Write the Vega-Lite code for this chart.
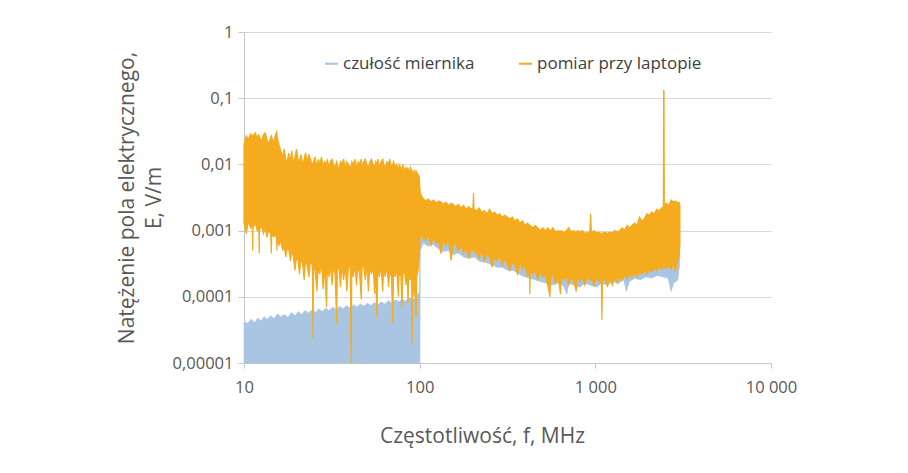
{
  "$schema": "https://vega.github.io/schema/vega-lite/v6.json",
  "width": 527,
  "height": 331,
  "autosize": {"type": "none"},
  "padding": {"left": 244, "top": 32, "right": 137, "bottom": 110},
  "background": "white",
  "config": {
    "view": {"stroke": null},
    "font": "Open Sans",
    "axis": {
      "labelFont": "Open Sans",
      "titleFont": "Open Sans",
      "labelColor": "#595959",
      "titleColor": "#595959",
      "labelFontSize": 16.5,
      "titleFontSize": 21,
      "titleFontWeight": "normal",
      "domainColor": "#c8c8c8",
      "tickColor": "#c8c8c8",
      "gridColor": "#d9d9d9"
    },
    "legend": {"labelFont": "Open Sans", "labelFontSize": 17, "labelColor": "#404040", "labelLimit": 400}
  },
  "datasets": {
    "blue": [
      {"f": 10, "lo": 0.00001, "hi": 0.000042},
      {"f": 10.5, "lo": 0.00001, "hi": 0.00004},
      {"f": 11, "lo": 0.00001, "hi": 0.000046},
      {"f": 11.5, "lo": 0.00001, "hi": 0.000041},
      {"f": 12, "lo": 0.00001, "hi": 0.000048},
      {"f": 12.5, "lo": 0.00001, "hi": 0.000043},
      {"f": 13, "lo": 0.00001, "hi": 0.00005},
      {"f": 13.6, "lo": 0.00001, "hi": 0.000046},
      {"f": 14.2, "lo": 0.00001, "hi": 0.000052},
      {"f": 14.8, "lo": 0.00001, "hi": 0.000047},
      {"f": 15.5, "lo": 0.00001, "hi": 0.000055},
      {"f": 16.2, "lo": 0.00001, "hi": 0.00005},
      {"f": 17, "lo": 0.00001, "hi": 0.000054},
      {"f": 17.8, "lo": 0.00001, "hi": 0.000049},
      {"f": 18.6, "lo": 0.00001, "hi": 0.000058},
      {"f": 19.5, "lo": 0.00001, "hi": 0.000052},
      {"f": 20.4, "lo": 0.00001, "hi": 0.00006},
      {"f": 21.3, "lo": 0.00001, "hi": 0.000054},
      {"f": 22.3, "lo": 0.00001, "hi": 0.000062},
      {"f": 23.3, "lo": 0.00001, "hi": 0.000057},
      {"f": 24.4, "lo": 0.00001, "hi": 0.000064},
      {"f": 25.5, "lo": 0.00001, "hi": 0.000058},
      {"f": 26.7, "lo": 0.00001, "hi": 0.000066},
      {"f": 27.9, "lo": 0.00001, "hi": 0.00006},
      {"f": 29.2, "lo": 0.00001, "hi": 0.000068},
      {"f": 30.5, "lo": 0.00001, "hi": 0.000062},
      {"f": 32, "lo": 0.00001, "hi": 0.00007},
      {"f": 33.5, "lo": 0.00001, "hi": 0.000064},
      {"f": 35, "lo": 0.00001, "hi": 0.000072},
      {"f": 36.6, "lo": 0.00001, "hi": 0.000066},
      {"f": 38.3, "lo": 0.00001, "hi": 0.000074},
      {"f": 40.1, "lo": 0.00001, "hi": 0.000068},
      {"f": 42, "lo": 0.00001, "hi": 0.000076},
      {"f": 44, "lo": 0.00001, "hi": 0.00007},
      {"f": 46, "lo": 0.00001, "hi": 0.000078},
      {"f": 48.2, "lo": 0.00001, "hi": 0.000072},
      {"f": 50.4, "lo": 0.00001, "hi": 0.00008},
      {"f": 52.8, "lo": 0.00001, "hi": 0.000074},
      {"f": 55.2, "lo": 0.00001, "hi": 0.000082},
      {"f": 57.8, "lo": 0.00001, "hi": 0.000076},
      {"f": 60.5, "lo": 0.00001, "hi": 0.000084},
      {"f": 63.3, "lo": 0.00001, "hi": 0.000078},
      {"f": 66.3, "lo": 0.00001, "hi": 0.000088},
      {"f": 69.4, "lo": 0.00001, "hi": 0.00008},
      {"f": 72.6, "lo": 0.00001, "hi": 0.00009},
      {"f": 76, "lo": 0.00001, "hi": 0.000084},
      {"f": 79.5, "lo": 0.00001, "hi": 0.000092},
      {"f": 83.2, "lo": 0.00001, "hi": 0.000086},
      {"f": 87.1, "lo": 0.00001, "hi": 0.000096},
      {"f": 91.2, "lo": 0.00001, "hi": 0.00009},
      {"f": 95.4, "lo": 0.00001, "hi": 0.0001},
      {"f": 98, "lo": 0.00001, "hi": 0.00011},
      {"f": 99.8, "lo": 0.00001, "hi": 0.00012},
      {"f": 100.3, "lo": 0.00001, "hi": 0.001},
      {"f": 100.8, "lo": 0.0005, "hi": 0.001},
      {"f": 105, "lo": 0.00065, "hi": 0.0012},
      {"f": 112, "lo": 0.00058, "hi": 0.0012},
      {"f": 118, "lo": 0.00062, "hi": 0.0011},
      {"f": 126, "lo": 0.00055, "hi": 0.0012},
      {"f": 135, "lo": 0.00048, "hi": 0.0011},
      {"f": 145, "lo": 0.0005, "hi": 0.001},
      {"f": 155, "lo": 0.00043, "hi": 0.001},
      {"f": 166, "lo": 0.00046, "hi": 0.001},
      {"f": 178, "lo": 0.0004, "hi": 0.0009},
      {"f": 190, "lo": 0.00038, "hi": 0.0009},
      {"f": 205, "lo": 0.0004, "hi": 0.0009},
      {"f": 220, "lo": 0.00034, "hi": 0.0008},
      {"f": 237, "lo": 0.00033, "hi": 0.0008},
      {"f": 255, "lo": 0.00031, "hi": 0.0008},
      {"f": 275, "lo": 0.00028, "hi": 0.0007},
      {"f": 295, "lo": 0.00028, "hi": 0.0007},
      {"f": 318, "lo": 0.00025, "hi": 0.0007},
      {"f": 342, "lo": 0.00025, "hi": 0.0006},
      {"f": 368, "lo": 0.00022, "hi": 0.0006},
      {"f": 395, "lo": 0.0002, "hi": 0.0006},
      {"f": 425, "lo": 0.00019, "hi": 0.0005},
      {"f": 457, "lo": 0.00018, "hi": 0.0005},
      {"f": 490, "lo": 0.00017, "hi": 0.0005},
      {"f": 527, "lo": 0.00016, "hi": 0.0005},
      {"f": 566, "lo": 0.00015, "hi": 0.0005},
      {"f": 609, "lo": 0.00016, "hi": 0.0005},
      {"f": 655, "lo": 0.00015, "hi": 0.0005},
      {"f": 690, "lo": 0.00011, "hi": 0.0005},
      {"f": 704, "lo": 0.00016, "hi": 0.0005},
      {"f": 757, "lo": 0.00015, "hi": 0.0005},
      {"f": 814, "lo": 0.00014, "hi": 0.0005},
      {"f": 875, "lo": 0.00016, "hi": 0.0005},
      {"f": 941, "lo": 0.00015, "hi": 0.0005},
      {"f": 1012, "lo": 0.00014, "hi": 0.0005},
      {"f": 1088, "lo": 0.00016, "hi": 0.0005},
      {"f": 1170, "lo": 0.00015, "hi": 0.0005},
      {"f": 1258, "lo": 0.00017, "hi": 0.0005},
      {"f": 1352, "lo": 0.00016, "hi": 0.0005},
      {"f": 1454, "lo": 0.00018, "hi": 0.0006},
      {"f": 1500, "lo": 0.00012, "hi": 0.0006},
      {"f": 1563, "lo": 0.00017, "hi": 0.0006},
      {"f": 1680, "lo": 0.00019, "hi": 0.0006},
      {"f": 1806, "lo": 0.00018, "hi": 0.0007},
      {"f": 1942, "lo": 0.0002, "hi": 0.0007},
      {"f": 2088, "lo": 0.00019, "hi": 0.0008},
      {"f": 2244, "lo": 0.00021, "hi": 0.0008},
      {"f": 2413, "lo": 0.0002, "hi": 0.0009},
      {"f": 2594, "lo": 0.00019, "hi": 0.0009},
      {"f": 2700, "lo": 0.00012, "hi": 0.0009},
      {"f": 2789, "lo": 0.00016, "hi": 0.001},
      {"f": 2950, "lo": 0.00018, "hi": 0.001},
      {"f": 3020, "lo": 0.0003, "hi": 0.001}
    ],
    "orange": [
      {"f": 10.0, "lo": 0.0013, "hi": 0.02},
      {"f": 10.3, "lo": 0.0009, "hi": 0.027},
      {"f": 10.6, "lo": 0.0014, "hi": 0.024},
      {"f": 10.9, "lo": 0.0011, "hi": 0.029},
      {"f": 11.15, "lo": 0.0012, "hi": 0.026},
      {"f": 11.2, "lo": 0.0005, "hi": 0.028},
      {"f": 11.25, "lo": 0.0011, "hi": 0.027},
      {"f": 11.6, "lo": 0.0013, "hi": 0.03},
      {"f": 11.9, "lo": 0.001, "hi": 0.025},
      {"f": 12.15, "lo": 0.0011, "hi": 0.028},
      {"f": 12.2, "lo": 0.00045, "hi": 0.027},
      {"f": 12.25, "lo": 0.001, "hi": 0.026},
      {"f": 12.6, "lo": 0.0012, "hi": 0.022},
      {"f": 12.9, "lo": 0.0009, "hi": 0.028},
      {"f": 13.2, "lo": 0.0011, "hi": 0.03},
      {"f": 13.5, "lo": 0.0008, "hi": 0.024},
      {"f": 13.8, "lo": 0.001, "hi": 0.02},
      {"f": 14.2, "lo": 0.0009, "hi": 0.026},
      {"f": 14.3, "lo": 0.00045, "hi": 0.027},
      {"f": 14.4, "lo": 0.0009, "hi": 0.025},
      {"f": 14.8, "lo": 0.0008, "hi": 0.021},
      {"f": 15.1, "lo": 0.0009, "hi": 0.028},
      {"f": 15.35, "lo": 0.0007, "hi": 0.031},
      {"f": 15.4, "lo": 0.0005, "hi": 0.03},
      {"f": 15.45, "lo": 0.0007, "hi": 0.026},
      {"f": 15.8, "lo": 0.0006, "hi": 0.02},
      {"f": 16.2, "lo": 0.0007, "hi": 0.016},
      {"f": 16.6, "lo": 0.0005, "hi": 0.013},
      {"f": 16.9, "lo": 0.0006, "hi": 0.017},
      {"f": 17.3, "lo": 0.0004, "hi": 0.012},
      {"f": 17.6, "lo": 0.00055, "hi": 0.011},
      {"f": 18.0, "lo": 0.0005, "hi": 0.015},
      {"f": 18.4, "lo": 0.00035, "hi": 0.011},
      {"f": 18.7, "lo": 0.0005, "hi": 0.016},
      {"f": 19.1, "lo": 0.0004, "hi": 0.01},
      {"f": 19.5, "lo": 0.00025, "hi": 0.013},
      {"f": 19.9, "lo": 0.0004, "hi": 0.017},
      {"f": 20.3, "lo": 0.00035, "hi": 0.012},
      {"f": 20.7, "lo": 0.00022, "hi": 0.011},
      {"f": 21.1, "lo": 0.0004, "hi": 0.014},
      {"f": 21.6, "lo": 0.0003, "hi": 0.01},
      {"f": 22.0, "lo": 0.00018, "hi": 0.012},
      {"f": 22.4, "lo": 0.00035, "hi": 0.015},
      {"f": 22.9, "lo": 0.0003, "hi": 0.011},
      {"f": 23.4, "lo": 0.0002, "hi": 0.014},
      {"f": 23.9, "lo": 0.00035, "hi": 0.012},
      {"f": 24.5, "lo": 0.0003, "hi": 0.01},
      {"f": 24.7, "lo": 0.000024, "hi": 0.01},
      {"f": 24.9, "lo": 0.0003, "hi": 0.011},
      {"f": 25.4, "lo": 0.00025, "hi": 0.013},
      {"f": 26.0, "lo": 0.00012, "hi": 0.009},
      {"f": 26.5, "lo": 0.0003, "hi": 0.012},
      {"f": 27.0, "lo": 0.00022, "hi": 0.01},
      {"f": 27.6, "lo": 0.00035, "hi": 0.013},
      {"f": 28.2, "lo": 0.00013, "hi": 0.009},
      {"f": 28.7, "lo": 0.0003, "hi": 0.011},
      {"f": 29.5, "lo": 0.00007, "hi": 0.01},
      {"f": 29.8, "lo": 0.00028, "hi": 0.012},
      {"f": 30.4, "lo": 0.0002, "hi": 0.009},
      {"f": 31.0, "lo": 0.0003, "hi": 0.011},
      {"f": 31.7, "lo": 0.00015, "hi": 0.012},
      {"f": 32.3, "lo": 0.0003, "hi": 0.01},
      {"f": 33.0, "lo": 0.00022, "hi": 0.009},
      {"f": 33.7, "lo": 0.00004, "hi": 0.011},
      {"f": 34.0, "lo": 0.00025, "hi": 0.01},
      {"f": 34.7, "lo": 0.0003, "hi": 0.008},
      {"f": 35.4, "lo": 0.00014, "hi": 0.011},
      {"f": 36.1, "lo": 0.0003, "hi": 0.01},
      {"f": 36.9, "lo": 0.00018, "hi": 0.012},
      {"f": 37.7, "lo": 0.0003, "hi": 0.009},
      {"f": 38.5, "lo": 0.00012, "hi": 0.011},
      {"f": 39.3, "lo": 0.00028, "hi": 0.01},
      {"f": 40.3, "lo": 0.0003, "hi": 0.009},
      {"f": 40.7, "lo": 0.00001, "hi": 0.009},
      {"f": 41.1, "lo": 0.0003, "hi": 0.011},
      {"f": 41.9, "lo": 0.0002, "hi": 0.01},
      {"f": 42.8, "lo": 0.0003, "hi": 0.012},
      {"f": 43.7, "lo": 0.00015, "hi": 0.009},
      {"f": 44.6, "lo": 0.0003, "hi": 0.011},
      {"f": 45.5, "lo": 0.00022, "hi": 0.01},
      {"f": 46.5, "lo": 0.00009, "hi": 0.012},
      {"f": 47.0, "lo": 0.00028, "hi": 0.009},
      {"f": 48.0, "lo": 0.0003, "hi": 0.011},
      {"f": 49.0, "lo": 0.00018, "hi": 0.012},
      {"f": 50.0, "lo": 0.0003, "hi": 0.01},
      {"f": 51.1, "lo": 0.00012, "hi": 0.009},
      {"f": 52.0, "lo": 0.00028, "hi": 0.011},
      {"f": 53.2, "lo": 0.00022, "hi": 0.012},
      {"f": 54.3, "lo": 0.0003, "hi": 0.01},
      {"f": 55.5, "lo": 0.00011, "hi": 0.009},
      {"f": 56.2, "lo": 0.00028, "hi": 0.011},
      {"f": 57.1, "lo": 0.00005, "hi": 0.01},
      {"f": 57.8, "lo": 0.00028, "hi": 0.012},
      {"f": 59.0, "lo": 0.0002, "hi": 0.009},
      {"f": 60.3, "lo": 0.0003, "hi": 0.011},
      {"f": 61.6, "lo": 0.00012, "hi": 0.012},
      {"f": 62.4, "lo": 0.00028, "hi": 0.01},
      {"f": 63.7, "lo": 0.0002, "hi": 0.009},
      {"f": 65.1, "lo": 0.0003, "hi": 0.011},
      {"f": 66.5, "lo": 0.00014, "hi": 0.01},
      {"f": 67.5, "lo": 0.00025, "hi": 0.012},
      {"f": 69.0, "lo": 0.0002, "hi": 0.009},
      {"f": 70.3, "lo": 0.00004, "hi": 0.01},
      {"f": 71.0, "lo": 0.00025, "hi": 0.011},
      {"f": 72.5, "lo": 0.0002, "hi": 0.009},
      {"f": 74.0, "lo": 0.00028, "hi": 0.01},
      {"f": 75.6, "lo": 0.0001, "hi": 0.008},
      {"f": 76.5, "lo": 0.00025, "hi": 0.01},
      {"f": 78.2, "lo": 0.0002, "hi": 0.009},
      {"f": 79.3, "lo": 0.00007, "hi": 0.008},
      {"f": 80.2, "lo": 0.00022, "hi": 0.01},
      {"f": 81.9, "lo": 0.00025, "hi": 0.008},
      {"f": 83.6, "lo": 0.00015, "hi": 0.009},
      {"f": 85.0, "lo": 0.00025, "hi": 0.008},
      {"f": 85.8, "lo": 0.00008, "hi": 0.009},
      {"f": 86.8, "lo": 0.00022, "hi": 0.007},
      {"f": 88.6, "lo": 0.00018, "hi": 0.009},
      {"f": 90.0, "lo": 0.00025, "hi": 0.008},
      {"f": 90.5, "lo": 0.00002, "hi": 0.008},
      {"f": 91.2, "lo": 0.00022, "hi": 0.007},
      {"f": 93.0, "lo": 0.0001, "hi": 0.008},
      {"f": 94.5, "lo": 0.00022, "hi": 0.007},
      {"f": 95.4, "lo": 0.00005, "hi": 0.008},
      {"f": 96.3, "lo": 0.0002, "hi": 0.0075},
      {"f": 98.0, "lo": 0.00025, "hi": 0.007},
      {"f": 99.5, "lo": 0.0004, "hi": 0.0065},
      {"f": 100.5, "lo": 0.0008, "hi": 0.004},
      {"f": 101.5, "lo": 0.0009, "hi": 0.0035},
      {"f": 104, "lo": 0.0008, "hi": 0.0031},
      {"f": 108, "lo": 0.0007, "hi": 0.0028},
      {"f": 112, "lo": 0.00085, "hi": 0.003},
      {"f": 116, "lo": 0.0006, "hi": 0.0027},
      {"f": 120, "lo": 0.0008, "hi": 0.0029},
      {"f": 124, "lo": 0.00065, "hi": 0.0026},
      {"f": 128, "lo": 0.0007, "hi": 0.0028},
      {"f": 132, "lo": 0.00045, "hi": 0.0027},
      {"f": 136, "lo": 0.0007, "hi": 0.0025},
      {"f": 141, "lo": 0.0006, "hi": 0.0027},
      {"f": 146, "lo": 0.00075, "hi": 0.0024},
      {"f": 151, "lo": 0.00035, "hi": 0.0026},
      {"f": 155, "lo": 0.0006, "hi": 0.0025},
      {"f": 160, "lo": 0.00065, "hi": 0.0023},
      {"f": 166, "lo": 0.0005, "hi": 0.0025},
      {"f": 172, "lo": 0.0006, "hi": 0.0022},
      {"f": 178, "lo": 0.00045, "hi": 0.0024},
      {"f": 184, "lo": 0.00055, "hi": 0.0021},
      {"f": 190, "lo": 0.0004, "hi": 0.0023},
      {"f": 196, "lo": 0.0005, "hi": 0.0021},
      {"f": 201, "lo": 0.0005, "hi": 0.0022},
      {"f": 202.5, "lo": 0.0005, "hi": 0.0037},
      {"f": 204, "lo": 0.0005, "hi": 0.0021},
      {"f": 211, "lo": 0.00045, "hi": 0.002},
      {"f": 218, "lo": 0.00038, "hi": 0.0022},
      {"f": 226, "lo": 0.0005, "hi": 0.0019},
      {"f": 234, "lo": 0.00035, "hi": 0.002},
      {"f": 242, "lo": 0.00045, "hi": 0.0018},
      {"f": 250, "lo": 0.0004, "hi": 0.0021},
      {"f": 258, "lo": 0.00028, "hi": 0.0018},
      {"f": 267, "lo": 0.0004, "hi": 0.0019},
      {"f": 276, "lo": 0.00035, "hi": 0.0017},
      {"f": 285, "lo": 0.00042, "hi": 0.0018},
      {"f": 295, "lo": 0.0003, "hi": 0.0016},
      {"f": 305, "lo": 0.00038, "hi": 0.0017},
      {"f": 315, "lo": 0.00032, "hi": 0.0016},
      {"f": 326, "lo": 0.00025, "hi": 0.0015},
      {"f": 337, "lo": 0.00035, "hi": 0.0016},
      {"f": 348, "lo": 0.0003, "hi": 0.0014},
      {"f": 360, "lo": 0.00022, "hi": 0.0015},
      {"f": 372, "lo": 0.00032, "hi": 0.0013},
      {"f": 385, "lo": 0.00026, "hi": 0.0014},
      {"f": 398, "lo": 0.0003, "hi": 0.0012},
      {"f": 411, "lo": 0.0002, "hi": 0.0013},
      {"f": 422, "lo": 0.00026, "hi": 0.0012},
      {"f": 424, "lo": 0.00011, "hi": 0.0012},
      {"f": 426, "lo": 0.00026, "hi": 0.0012},
      {"f": 440, "lo": 0.00022, "hi": 0.0011},
      {"f": 455, "lo": 0.00026, "hi": 0.0012},
      {"f": 470, "lo": 0.00018, "hi": 0.0011},
      {"f": 486, "lo": 0.00024, "hi": 0.001},
      {"f": 502, "lo": 0.0002, "hi": 0.0011},
      {"f": 519, "lo": 0.00022, "hi": 0.001},
      {"f": 536, "lo": 0.00015, "hi": 0.0011},
      {"f": 552, "lo": 0.0001, "hi": 0.001},
      {"f": 556, "lo": 0.0002, "hi": 0.001},
      {"f": 574, "lo": 0.00022, "hi": 0.0011},
      {"f": 593, "lo": 0.00016, "hi": 0.00095},
      {"f": 613, "lo": 0.0002, "hi": 0.001},
      {"f": 634, "lo": 0.00011, "hi": 0.00095},
      {"f": 640, "lo": 0.0002, "hi": 0.001},
      {"f": 661, "lo": 0.00018, "hi": 0.00092},
      {"f": 683, "lo": 0.00021, "hi": 0.001},
      {"f": 706, "lo": 0.00015, "hi": 0.0011},
      {"f": 730, "lo": 0.0002, "hi": 0.00095},
      {"f": 754, "lo": 0.00017, "hi": 0.001},
      {"f": 779, "lo": 0.00012, "hi": 0.00092},
      {"f": 790, "lo": 0.0002, "hi": 0.001},
      {"f": 816, "lo": 0.00017, "hi": 0.00095},
      {"f": 843, "lo": 0.0002, "hi": 0.001},
      {"f": 871, "lo": 0.00015, "hi": 0.0009},
      {"f": 900, "lo": 0.0002, "hi": 0.00095},
      {"f": 930, "lo": 0.00018, "hi": 0.0009},
      {"f": 940, "lo": 0.00018, "hi": 0.0018},
      {"f": 950, "lo": 0.00019, "hi": 0.0009},
      {"f": 981, "lo": 0.00015, "hi": 0.001},
      {"f": 1013, "lo": 0.0002, "hi": 0.00092},
      {"f": 1046, "lo": 0.00017, "hi": 0.00095},
      {"f": 1082, "lo": 0.00017, "hi": 0.0009},
      {"f": 1090, "lo": 0.000045, "hi": 0.0009},
      {"f": 1098, "lo": 0.00017, "hi": 0.00092},
      {"f": 1134, "lo": 0.0002, "hi": 0.00095},
      {"f": 1171, "lo": 0.00014, "hi": 0.0009},
      {"f": 1210, "lo": 0.0002, "hi": 0.00095},
      {"f": 1250, "lo": 0.00015, "hi": 0.00092},
      {"f": 1291, "lo": 0.0002, "hi": 0.001},
      {"f": 1333, "lo": 0.00016, "hi": 0.00095},
      {"f": 1377, "lo": 0.0002, "hi": 0.001},
      {"f": 1422, "lo": 0.00018, "hi": 0.0011},
      {"f": 1469, "lo": 0.00021, "hi": 0.001},
      {"f": 1517, "lo": 0.00019, "hi": 0.0012},
      {"f": 1567, "lo": 0.00022, "hi": 0.0011},
      {"f": 1618, "lo": 0.0002, "hi": 0.0012},
      {"f": 1671, "lo": 0.00023, "hi": 0.0013},
      {"f": 1726, "lo": 0.0002, "hi": 0.0012},
      {"f": 1783, "lo": 0.00024, "hi": 0.0016},
      {"f": 1841, "lo": 0.00022, "hi": 0.0014},
      {"f": 1901, "lo": 0.00025, "hi": 0.0015},
      {"f": 1964, "lo": 0.00022, "hi": 0.0018},
      {"f": 2028, "lo": 0.00026, "hi": 0.0017},
      {"f": 2095, "lo": 0.00024, "hi": 0.0019},
      {"f": 2163, "lo": 0.00027, "hi": 0.0018},
      {"f": 2234, "lo": 0.00025, "hi": 0.0021},
      {"f": 2308, "lo": 0.00028, "hi": 0.002},
      {"f": 2383, "lo": 0.00026, "hi": 0.0022},
      {"f": 2440, "lo": 0.00028, "hi": 0.0023},
      {"f": 2448, "lo": 0.0003, "hi": 0.13},
      {"f": 2460, "lo": 0.0003, "hi": 0.13},
      {"f": 2470, "lo": 0.00028, "hi": 0.0024},
      {"f": 2540, "lo": 0.00027, "hi": 0.0026},
      {"f": 2620, "lo": 0.0003, "hi": 0.0024},
      {"f": 2700, "lo": 0.00026, "hi": 0.0029},
      {"f": 2780, "lo": 0.00032, "hi": 0.0027},
      {"f": 2860, "lo": 0.00024, "hi": 0.0028},
      {"f": 2940, "lo": 0.00035, "hi": 0.0026},
      {"f": 2990, "lo": 0.0004, "hi": 0.0027},
      {"f": 3030, "lo": 0.0006, "hi": 0.0024}
    ]
  },
  "encoding": {
    "x": {
      "field": "f",
      "type": "quantitative",
      "scale": {"type": "log", "domain": [10, 10000]},
      "axis": {
        "values": [10, 100, 1000, 10000],
        "labelExpr": "replace(format(datum.value, ','), ',', ' ')",
        "grid": false,
        "tickSize": 5,
        "labelPadding": 11,
        "labelFlush": false,
        "title": "Częstotliwość, f, MHz",
        "titlePadding": 30,
        "titleX": 238
      }
    },
    "y": {
      "field": "hi",
      "type": "quantitative",
      "scale": {"type": "log", "domain": [0.00001, 1]},
      "axis": {
        "values": [0.00001, 0.0001, 0.001, 0.01, 0.1, 1],
        "labelExpr": "replace(format(datum.value, '.5~f'), '.', ',')",
        "grid": true,
        "tickSize": 6,
        "labelPadding": 5,
        "labelFlush": false,
        "title": ["Natężenie pola elektrycznego,", "E, V/m"],
        "titleLineHeight": 27,
        "titlePadding": 8
      }
    },
    "y2": {"field": "lo"}
  },
  "layer": [
    {
      "data": {"name": "blue"},
      "mark": {"type": "area", "stroke": "#a9c5e2", "strokeWidth": 0.6, "interpolate": "linear"},
      "encoding": {
        "color": {
          "datum": "czułość miernika",
          "scale": {"domain": ["czułość miernika", "pomiar przy laptopie"], "range": ["#a9c5e2", "#f5ab1e"]},
          "legend": {
            "title": null,
            "orient": "none",
            "legendX": 79,
            "legendY": 23,
            "direction": "horizontal",
            "columns": 2,
            "columnPadding": 42,
            "symbolType": "M-1,-0.16L1,-0.16L1,0.16L-1,0.16Z",
            "symbolSize": 170,
            "symbolStrokeWidth": 0,
            "labelOffset": 3,
            "labelLimit": 400,
            "encode": {
              "symbols": {"update": {"strokeWidth": {"value": 0}, "opacity": {"value": 1}}}
            }
          }
        }
      }
    },
    {
      "data": {"name": "orange"},
      "mark": {"type": "area", "stroke": "#f5ab1e", "strokeWidth": 1.2, "interpolate": "linear"},
      "encoding": {
        "color": {"datum": "pomiar przy laptopie"}
      }
    }
  ]
}
